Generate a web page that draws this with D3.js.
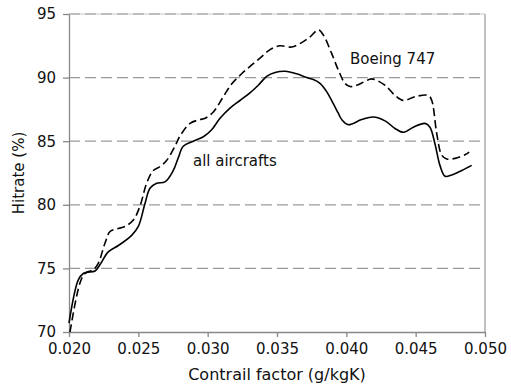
<!DOCTYPE html>
<html>
<head>
<meta charset="utf-8">
<script src="https://cdn.jsdelivr.net/npm/d3@7"></script>
<style>
  body { margin: 0; background: #fff; }
  text { font-family: "DejaVu Sans", Verdana, sans-serif; fill: #111; }
  .axis path, .axis line { stroke: #888; }
  .axis text { font-size: 15px; fill: #111; }
</style>
</head>
<body>
<div id="chart"></div>
<script>
// contrail factor (g/kgK) vs hitrate (%)
var allX = [0.0200, 0.02067, 0.02103, 0.02128, 0.02188, 0.02224, 0.02283, 0.02356, 0.02452, 0.02500,
            0.02548, 0.02584, 0.02632, 0.02692, 0.02752, 0.02788, 0.02824, 0.02896, 0.02969, 0.03029,
            0.03089, 0.03161, 0.03233, 0.03305, 0.03365, 0.03426, 0.03486, 0.03558, 0.03642, 0.03714,
            0.03762, 0.03810, 0.03858, 0.03906, 0.03942, 0.03967, 0.04014, 0.04111, 0.04194, 0.04279,
            0.04351, 0.04411, 0.04483, 0.04567, 0.04603, 0.04639, 0.04675, 0.04712, 0.04760, 0.04832, 0.04904];
var allY = [70.7, 74.1, 74.6, 74.7, 74.8, 75.3, 76.3, 76.8, 77.6, 78.3,
            80.1, 81.3, 81.7, 81.8, 82.7, 83.7, 84.6, 85.0, 85.35, 85.9,
            86.8, 87.6, 88.2, 88.8, 89.4, 90.1, 90.4, 90.5, 90.3, 90.0,
            89.85, 89.55, 88.9, 87.95, 87.2, 86.7, 86.3, 86.7, 86.9, 86.6,
            86.0, 85.7, 86.1, 86.4, 86.1, 84.8, 83.1, 82.25, 82.35, 82.7, 83.1];

var b747X = [0.02007, 0.02079, 0.02115, 0.02175, 0.02211, 0.02260, 0.02296, 0.02344, 0.02404, 0.02464,
             0.02512, 0.02560, 0.02608, 0.02656, 0.02705, 0.02764, 0.02800, 0.02873, 0.02945, 0.02981,
             0.03041, 0.03113, 0.03173, 0.03245, 0.03318, 0.03390, 0.03450, 0.03522, 0.03606, 0.03678,
             0.03738, 0.03798, 0.03834, 0.03894, 0.03942, 0.03990, 0.04026, 0.04075, 0.04135, 0.04183,
             0.04279, 0.04351, 0.04411, 0.04495, 0.04591, 0.04616, 0.04652, 0.04688, 0.04724, 0.04784,
             0.04868, 0.04885];
var b747Y = [70.0, 73.85, 74.6, 74.9, 75.4, 77.0, 77.9, 78.1, 78.3, 78.8,
             79.9, 81.7, 82.7, 83.0, 83.5, 84.6, 85.4, 86.4, 86.7, 86.8,
             87.3, 88.5, 89.5, 90.3, 91.0, 91.65, 92.2, 92.5, 92.4, 92.75,
             93.2, 93.75, 93.35, 91.9, 90.6, 89.55, 89.3, 89.4, 89.7, 89.9,
             89.4, 88.6, 88.2, 88.5, 88.6, 88.2, 85.6, 83.9, 83.6, 83.65,
             84.0, 84.15];

var xTicks = [0.020, 0.025, 0.030, 0.035, 0.040, 0.045, 0.050];
var yTicks = [70, 75, 80, 85, 90, 95];

var allData = allX.map((x, i) => ({x: x, y: allY[i]}));
var b747Data = b747X.map((x, i) => ({x: x, y: b747Y[i]}));

var margin = {top: 14, right: 26, bottom: 55, left: 69};
var containerWidth = 511;
var containerHeight = 387;
var width = containerWidth - margin.left - margin.right;
var height = containerHeight - margin.top - margin.bottom;

var svg = d3.select('#chart').append('svg')
            .attr('width', containerWidth)
            .attr('height', containerHeight)
            .append('g')
                .attr('transform', `translate(${margin.left}, ${margin.top})`);

var xScale = d3.scaleLinear().domain([0.020, 0.050]).range([0, width]);
var yScale = d3.scaleLinear().domain([70, 95]).range([height, 0]);

// faint top border under the 95 gridline
svg.append('line')
    .attr('x1', 0).attr('x2', width)
    .attr('y1', 0).attr('y2', 0)
    .attr('stroke', '#c8c8c8')
    .attr('stroke-width', 1.2);

// dashed gridlines
svg.selectAll('.grid')
    .data(yTicks.filter(d => d > 70))
    .enter()
    .append('line')
    .attr('class', 'grid')
    .attr('x1', 0)
    .attr('x2', width)
    .attr('y1', d => yScale(d))
    .attr('y2', d => yScale(d))
    .attr('stroke', '#999')
    .attr('stroke-width', 1.2)
    .attr('stroke-dasharray', '11,5');

// right border
svg.append('line')
    .attr('x1', width).attr('x2', width)
    .attr('y1', 0).attr('y2', height)
    .attr('stroke', '#999')
    .attr('stroke-width', 1.2);

var xAxis = d3.axisBottom(xScale)
    .tickValues(xTicks)
    .tickFormat(d3.format('.3f'))
    .tickSizeInner(5)
    .tickSizeOuter(0)
    .tickPadding(6);
var yAxis = d3.axisLeft(yScale)
    .tickValues(yTicks)
    .tickSizeInner(6)
    .tickSizeOuter(0)
    .tickPadding(7);

svg.append('g')
    .attr('class', 'x axis')
    .attr('transform', `translate(0,${height})`)
    .call(xAxis);

svg.append('g')
    .attr('class', 'y axis')
    .call(yAxis);

svg.selectAll('.axis path, .axis line').attr('stroke-width', 1.3);

var line = d3.line()
    .x(d => xScale(d.x))
    .y(d => yScale(d.y))
    .curve(d3.curveCatmullRom.alpha(0.5));

svg.append('path')
    .datum(b747Data)
    .attr('fill', 'none')
    .attr('stroke', '#000')
    .attr('stroke-width', 1.6)
    .attr('stroke-dasharray', '8,4')
    .attr('d', line);

svg.append('path')
    .datum(allData)
    .attr('fill', 'none')
    .attr('stroke', '#000')
    .attr('stroke-width', 1.6)
    .attr('d', line);

// labels
svg.append('text')
    .attr('x', xScale(0.04026))
    .attr('y', 50)
    .style('font-size', '15px')
    .text('Boeing 747');

svg.append('text')
    .attr('x', xScale(0.02894))
    .attr('y', 152)
    .style('font-size', '15px')
    .text('all aircrafts');

svg.append('text')
    .attr('x', width / 2)
    .attr('y', height + 48)
    .attr('text-anchor', 'middle')
    .style('font-size', '16px')
    .text('Contrail factor (g/kgK)');

svg.append('text')
    .attr('transform', `translate(${-45}, ${height / 2}) rotate(-90)`)
    .attr('text-anchor', 'middle')
    .style('font-size', '15px')
    .text('Hitrate (%)');
</script>
</body>
</html>
